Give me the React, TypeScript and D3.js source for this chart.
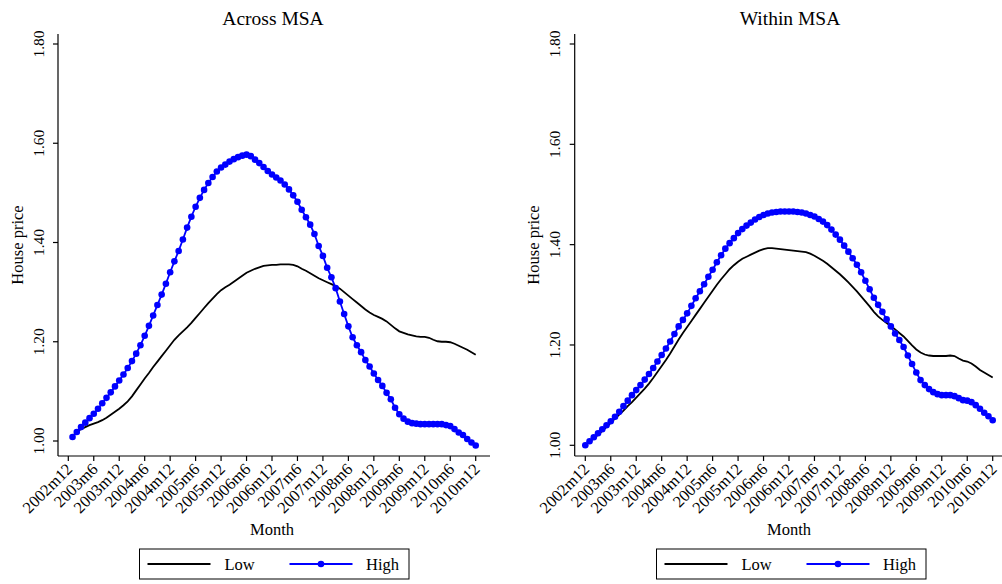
import React from "react";
import * as d3 from "d3";

// month index 0 = 2002m12
const tickMonths = [0, 6, 12, 18, 24, 30, 36, 42, 48, 54, 60, 66, 72, 78, 84, 90, 96];
const tickLabels = [
  "2002m12", "2003m6", "2003m12", "2004m6", "2004m12", "2005m6", "2005m12", "2006m6",
  "2006m12", "2007m6", "2007m12", "2008m6", "2008m12", "2009m6", "2009m12", "2010m6", "2010m12",
];
const yTicks = [1.0, 1.2, 1.4, 1.6, 1.8];

// Across MSA: 2003m1 .. 2010m12
const acrossStart = 1;
const acrossLow = [
  1.010, 1.018, 1.024, 1.028, 1.032, 1.035, 1.038, 1.042, 1.047, 1.053, 1.059, 1.065,
  1.072, 1.080, 1.090, 1.102, 1.114, 1.126, 1.137, 1.149, 1.160, 1.171, 1.182, 1.193,
  1.204, 1.213, 1.221, 1.229, 1.238, 1.248, 1.258, 1.268, 1.278, 1.287, 1.296, 1.304,
  1.310, 1.315, 1.321, 1.327, 1.333, 1.339, 1.343, 1.347, 1.350, 1.353, 1.354, 1.355,
  1.355, 1.356, 1.356, 1.356, 1.355, 1.352, 1.347, 1.343, 1.338, 1.333, 1.328, 1.324,
  1.320, 1.316, 1.312, 1.307, 1.300, 1.293, 1.286, 1.279, 1.272, 1.265, 1.259, 1.254,
  1.250, 1.246, 1.241, 1.234, 1.227, 1.221, 1.218, 1.215, 1.213, 1.211, 1.210, 1.210,
  1.208, 1.204, 1.201, 1.200, 1.200, 1.199, 1.196, 1.192, 1.188, 1.184, 1.179, 1.174,
];
const acrossHigh = [
  1.008, 1.018, 1.028, 1.037, 1.046, 1.055, 1.065, 1.076, 1.087, 1.098, 1.110, 1.122,
  1.134, 1.147, 1.161, 1.176, 1.193, 1.212, 1.232, 1.253, 1.274, 1.295, 1.317, 1.340,
  1.362, 1.383, 1.406, 1.430, 1.452, 1.472, 1.490, 1.506, 1.520, 1.532, 1.543, 1.551,
  1.557, 1.563, 1.568, 1.572, 1.575, 1.577, 1.574, 1.567, 1.560, 1.552, 1.544, 1.537,
  1.531, 1.525, 1.517, 1.507, 1.495, 1.482, 1.466, 1.451, 1.436, 1.417, 1.393, 1.373,
  1.349, 1.330, 1.308, 1.281, 1.256, 1.231, 1.209, 1.193, 1.179, 1.163, 1.150, 1.136,
  1.123, 1.111, 1.097, 1.084, 1.067, 1.054, 1.045, 1.039, 1.036, 1.035, 1.034, 1.034,
  1.034, 1.034, 1.034, 1.034, 1.032, 1.030, 1.024, 1.017, 1.012, 1.004, 0.997, 0.991,
];

// Within MSA: 2002m12 .. 2010m12
const withinStart = 0;
const withinLow = [
  1.000, 1.007, 1.014, 1.021, 1.029, 1.037, 1.045, 1.053, 1.061, 1.069, 1.078, 1.086,
  1.095, 1.104, 1.113, 1.123, 1.134, 1.146, 1.158, 1.170, 1.183, 1.197, 1.211, 1.224,
  1.236, 1.248, 1.260, 1.272, 1.284, 1.296, 1.308, 1.320, 1.331, 1.341, 1.351, 1.359,
  1.366, 1.372, 1.376, 1.380, 1.384, 1.388, 1.391, 1.393, 1.393, 1.392, 1.391, 1.390,
  1.389, 1.388, 1.387, 1.386, 1.385, 1.382, 1.378, 1.373, 1.368, 1.362, 1.355, 1.348,
  1.341, 1.333, 1.325, 1.316, 1.307, 1.297, 1.287, 1.277, 1.266, 1.257, 1.250, 1.244,
  1.238, 1.231, 1.224, 1.217, 1.208, 1.199, 1.191, 1.185, 1.181, 1.179, 1.178, 1.178,
  1.178, 1.178, 1.179, 1.178, 1.173, 1.169, 1.167, 1.163, 1.157, 1.150, 1.145, 1.140,
  1.135,
];
const withinHigh = [
  1.000, 1.008, 1.016, 1.024, 1.032, 1.040, 1.048, 1.057, 1.067, 1.078, 1.089, 1.100,
  1.110, 1.120, 1.131, 1.142, 1.154, 1.167, 1.180, 1.193, 1.207, 1.222, 1.237, 1.250,
  1.263, 1.278, 1.293, 1.307, 1.321, 1.336, 1.350, 1.365, 1.379, 1.392, 1.403, 1.413,
  1.423, 1.431, 1.438, 1.444, 1.450, 1.455, 1.459, 1.462, 1.464, 1.465, 1.466, 1.466,
  1.466, 1.466, 1.465, 1.464, 1.462, 1.459, 1.456, 1.451, 1.446, 1.439, 1.430, 1.420,
  1.410, 1.398, 1.386, 1.373, 1.360, 1.345, 1.328, 1.311, 1.294, 1.280, 1.266, 1.251,
  1.237, 1.223, 1.210, 1.196, 1.179, 1.162, 1.145, 1.130, 1.120, 1.112, 1.106, 1.102,
  1.100, 1.100, 1.100, 1.098, 1.094, 1.090, 1.089, 1.086, 1.080, 1.073, 1.065, 1.058,
  1.050,
];

const FONT = "'Liberation Serif', 'Times New Roman', serif";
const BLUE = "#0000ff";

type PanelProps = {
  title: string;
  low: number[];
  high: number[];
  start: number;
  axisX: number;
  axisRight: number;
  xRange: [number, number];
  yRange: [number, number];
  legendX: number;
};

const Panel = ({ title, low, high, start, axisX, axisRight, xRange, yRange, legendX }: PanelProps) => {
  const axisY = 456;
  const axisTop = 34;
  const x = d3.scaleLinear().domain([0, 96]).range(xRange);
  const y = d3.scaleLinear().domain([1, 1.8]).range(yRange);
  const line = d3
    .line<number>()
    .x((_, i) => x(i + start))
    .y((d) => y(d));
  const centerX = (xRange[0] + xRange[1]) / 2;

  return (
    <g>
      <text x={centerX + 1} y={25} textAnchor="middle" fontSize={19.5} fontFamily={FONT}>
        {title}
      </text>

      {/* y axis */}
      <line x1={axisX} x2={axisX} y1={axisTop} y2={axisY} stroke="#000" strokeWidth={1.2} />
      {yTicks.map((t) => (
        <g key={t}>
          <line x1={axisX - 5} x2={axisX} y1={y(t)} y2={y(t)} stroke="#000" strokeWidth={1.2} />
          <text
            transform={`translate(${axisX - 14.5},${y(t)}) rotate(-90)`}
            textAnchor="middle"
            fontSize={15.5}
            fontFamily={FONT}
          >
            {t.toFixed(2)}
          </text>
        </g>
      ))}
      <text
        transform={`translate(${axisX - 35.5},245) rotate(-90)`}
        textAnchor="middle"
        fontSize={16.5}
        fontFamily={FONT}
      >
        House price
      </text>

      {/* x axis */}
      <line x1={axisX} x2={axisRight} y1={axisY} y2={axisY} stroke="#000" strokeWidth={1.2} />
      {tickMonths.map((m, k) => (
        <g key={m}>
          <line x1={x(m)} x2={x(m)} y1={axisY} y2={axisY + 5} stroke="#000" strokeWidth={1.2} />
          <text
            transform={`translate(${x(m) + 1},${axisY + 10}) rotate(-45)`}
            textAnchor="end"
            dy="0.35em"
            fontSize={16.5}
            fontFamily={FONT}
          >
            {tickLabels[k]}
          </text>
        </g>
      ))}
      <text x={centerX} y={535} textAnchor="middle" fontSize={16.5} fontFamily={FONT}>
        Month
      </text>

      {/* series */}
      <path d={line(low) ?? ""} fill="none" stroke="#000" strokeWidth={1.8} />
      <path d={line(high) ?? ""} fill="none" stroke={BLUE} strokeWidth={1.8} />
      {high.map((d, i) => (
        <circle key={i} cx={x(i + start)} cy={y(d)} r={3.3} fill={BLUE} />
      ))}

      {/* legend */}
      <g transform={`translate(${legendX},549)`}>
        <rect x={0} y={0} width={269.5} height={30} fill="#fff" stroke="#000" strokeWidth={1} />
        <line x1={8} x2={71} y1={15} y2={15} stroke="#000" strokeWidth={2} />
        <text x={85} y={21} fontSize={16.5} fontFamily={FONT}>
          Low
        </text>
        <line x1={150} x2={213} y1={15} y2={15} stroke={BLUE} strokeWidth={2} />
        <circle cx={181.5} cy={15} r={3.3} fill={BLUE} />
        <text x={226.5} y={21} fontSize={16.5} fontFamily={FONT}>
          High
        </text>
      </g>
    </g>
  );
};

export default function App() {
  return (
    <svg
      width={1002}
      height={584}
      viewBox="0 0 1002 584"
      style={{ position: "absolute", left: 0, top: 0, background: "#fff" }}
    >
      <rect width={1002} height={584} fill="#fff" />
      <Panel
        title="Across MSA"
        low={acrossLow}
        high={acrossHigh}
        start={acrossStart}
        axisX={58}
        axisRight={490}
        xRange={[68.3, 475.7]}
        yRange={[441, 44]}
        legendX={139.5}
      />
      <Panel
        title="Within MSA"
        low={withinLow}
        high={withinHigh}
        start={withinStart}
        axisX={574.7}
        axisRight={1002}
        xRange={[585.3, 992.7]}
        yRange={[445.3, 44]}
        legendX={656.5}
      />
    </svg>
  );
}
